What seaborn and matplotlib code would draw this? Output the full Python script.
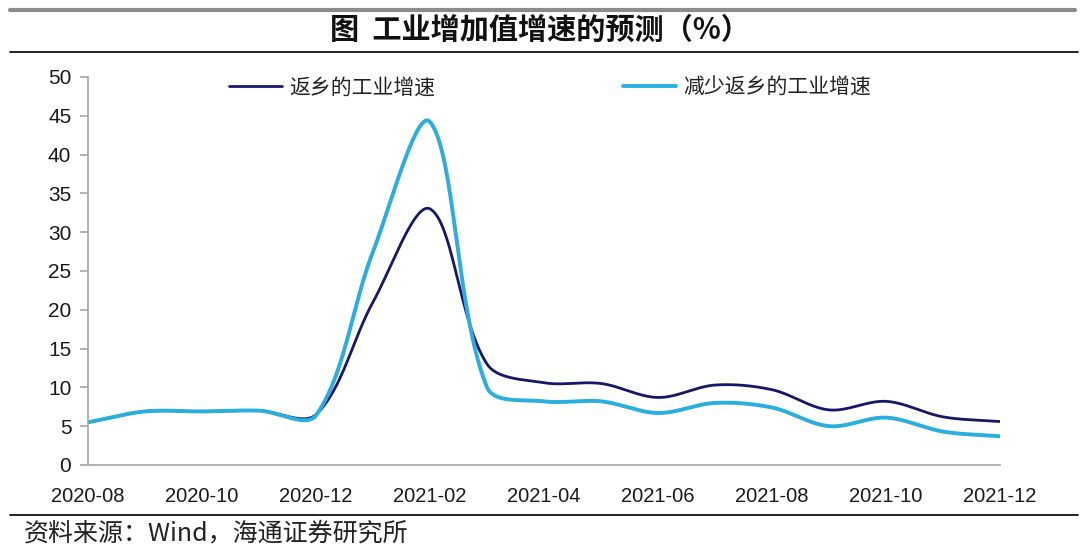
import numpy as np
import pandas as pd
import matplotlib
matplotlib.use("Agg")
import matplotlib.pyplot as plt
from matplotlib.lines import Line2D
import seaborn as sns

months = ["2020-08", "2020-09", "2020-10", "2020-11", "2020-12", "2021-01", "2021-02",
          "2021-03", "2021-04", "2021-05", "2021-06", "2021-07", "2021-08", "2021-09",
          "2021-10", "2021-11", "2021-12"]
series_names = ["返乡的工业增速", "减少返乡的工业增速"]
return_home = [5.5, 6.9, 6.9, 7.0, 6.5, 21.0, 33.0, 13.0, 10.6, 10.5, 8.7, 10.3, 9.7, 7.1, 8.2, 6.2, 5.6]
less_return = [5.5, 6.9, 6.9, 7.0, 6.4, 27.5, 44.2, 10.0, 8.2, 8.2, 6.7, 8.0, 7.4, 5.0, 6.1, 4.3, 3.7]
yticks = [0, 5, 10, 15, 20, 25, 30, 35, 40, 45, 50]
title = "图  工业增加值增速的预测（%）"
source = "资料来源：Wind，海通证券研究所"

colors = ["#16166a", "#2aaee0"]
widths = [2.0, 2.8]

sns.set_theme(style="white")
plt.rcParams["font.family"] = ["Liberation Sans", "Noto Sans CJK SC", "DejaVu Sans"]
cjk = ["Noto Sans CJK SC", "DejaVu Sans"]

# screen aspect used only for the spreadsheet-like smoothing of the drawn line
PX_X, PX_Y = 57.0, 7.76


def smooth(xs, ys, n=60):
    """Spreadsheet-like smoothed line: Bezier segments with Catmull-Rom tangents
    whose arms are shared out by chord length in screen space."""
    P = np.column_stack([np.asarray(xs, float) * PX_X, np.asarray(ys, float) * PX_Y])
    m = len(P)
    L = np.linalg.norm(np.diff(P, axis=0), axis=1)
    out = []
    for i in range(m - 1):
        p1, p2 = P[i], P[i + 1]
        p0 = P[i - 1] if i > 0 else p1
        p3 = P[i + 2] if i + 2 < m else p2
        l01 = L[i - 1] if i > 0 else 0.0
        l23 = L[i + 1] if i + 2 < m else 0.0
        l12 = L[i]
        c1 = p1 + (p2 - p0) * (l12 / (l01 + l12)) / 3.0 if i > 0 else p1 + (p2 - p1) / 3.0
        c2 = p2 - (p3 - p1) * (l12 / (l12 + l23)) / 3.0 if i + 2 < m else p2 - (p2 - p1) / 3.0
        t = np.linspace(0, 1, n, endpoint=(i == m - 2))[:, None]
        pts = ((1 - t) ** 3) * p1 + 3 * ((1 - t) ** 2) * t * c1 + 3 * (1 - t) * t ** 2 * c2 + t ** 3 * p2
        out.append(pts)
    out = np.vstack(out)
    return out[:, 0] / PX_X, out[:, 1] / PX_Y


fig = plt.figure(figsize=(10.8, 5.48), dpi=100)
ax = fig.add_axes([0.0815, 0.1515, 0.8445, 0.708])

idx = np.arange(len(months))
for name, vals, c, lw in zip(series_names, [return_home, less_return], colors, widths):
    sx, sy = smooth(idx, vals)
    df = pd.DataFrame({"x": sx, "y": sy})
    sns.lineplot(data=df, x="x", y="y", ax=ax, color=c, linewidth=lw, sort=False,
                 label=name, estimator=None)

ax.set_xlim(0, len(months) - 1)
ax.set_ylim(0, 50)
ax.set_yticks(yticks)
ax.set_yticklabels([str(v) for v in yticks], fontsize=15)
ax.set_xticks(idx[::2])
ax.set_xticklabels(months[::2], fontsize=14.5)
ax.set_xlabel("")
ax.set_ylabel("")
for s in ["top", "right"]:
    ax.spines[s].set_visible(False)
for s in ["left", "bottom"]:
    ax.spines[s].set_color("#a6a6a6")
    ax.spines[s].set_linewidth(1.2)
ax.tick_params(axis="y", which="major", left=True, length=6, width=1.2, color="#a6a6a6",
               pad=6, labelcolor="#1a1a1a")
ax.tick_params(axis="x", which="major", bottom=False, pad=10, labelcolor="#1a1a1a")
ax.grid(False)

leg = ax.legend(loc="upper left", bbox_to_anchor=(0.134, 1.05), ncol=2, frameon=False,
                handlelength=2.55, handletextpad=0.34, columnspacing=9.0,
                prop={"family": cjk, "size": 15})
for t in leg.get_texts():
    t.set_color("#222222")

fig.add_artist(Line2D([0.009, 0.995], [0.982, 0.982], color="#8c8c8c", linewidth=3.0,
                      transform=fig.transFigure))
fig.add_artist(Line2D([0.009, 0.998], [0.905, 0.905], color="#111111", linewidth=1.3,
                      transform=fig.transFigure))
fig.add_artist(Line2D([0.009, 0.998], [0.0602, 0.0602], color="#111111", linewidth=1.3,
                      transform=fig.transFigure))

fig.text(0.5, 0.945, title, ha="center", va="center", fontsize=21, fontweight="bold",
         family=cjk, color="#111111")
fig.text(0.022, 0.027, source, ha="left", va="center", fontsize=18, family=cjk,
         color="#222222")

fig.savefig("out.png", dpi=100, facecolor="white")
